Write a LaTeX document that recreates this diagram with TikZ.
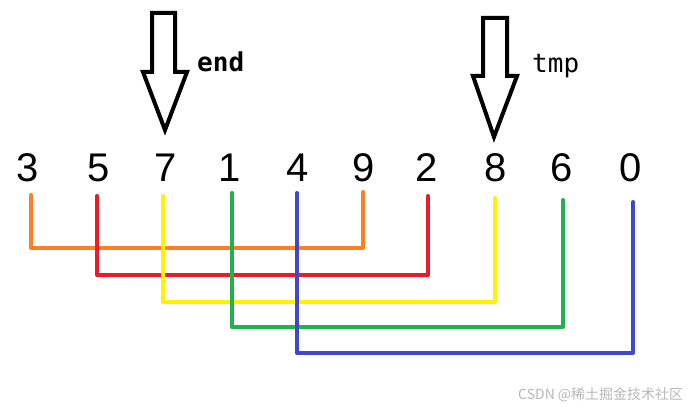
\documentclass[tikz,border=0pt]{standalone}
\usepackage{fontspec}
\setmainfont{Liberation Sans}
\newfontfamily\monofont{DejaVu Sans Mono}
\newfontfamily\cjkfont{Noto Sans CJK SC}
\definecolor{pOrange}{RGB}{255,127,39}
\definecolor{pRed}{RGB}{237,28,36}
\definecolor{pYellow}{RGB}{255,242,0}
\definecolor{pGreen}{RGB}{34,177,76}
\definecolor{pBlue}{RGB}{63,72,204}
\begin{document}
\begin{tikzpicture}[x=1pt,y=-1pt,
  digit/.style={inner sep=0pt,font=\fontsize{40}{40}\selectfont},
  ptr/.style={draw=black,line width=4pt,line join=miter,fill=white},
  lbl/.style={inner sep=0pt,anchor=base west,font=\monofont\fontsize{26}{26}\selectfont},
  link/.style={line width=4pt,line join=round,line cap=round}]
\useasboundingbox[fill=white] (0,0) rectangle (696,414);
% digits
\node[digit] (d3) at (28,167.5) {3};
\node[digit] (d5) at (99,167.5) {5};
\node[digit] (d7) at (166,167.5) {7};
\node[digit] (d1) at (230,167.5) {1};
\node[digit] (d4) at (298,167.5) {4};
\node[digit] (d9) at (364,167.5) {9};
\node[digit] (d2) at (427,167.5) {2};
\node[digit] (d8) at (496,167.5) {8};
\node[digit] (d6) at (562,167.5) {6};
\node[digit] (d0) at (631,167.5) {0};
% pointer arrows
\draw[ptr] (152,13) -- (175,13) -- (175,72) -- (187,72) -- (165,130) -- (143,72) -- (152,72) -- cycle;
\draw[ptr] (483,18) -- (507,18) -- (507,76) -- (517,76) -- (494,137) -- (473,76) -- (483,76) -- cycle;
\node[lbl,font=\monofont\bfseries\fontsize{26}{26}\selectfont] (endlbl) at (197,72) {end};
\node[lbl] (tmplbl) at (532,73) {tmp};
% connector end points
\coordinate (a1) at (31,195);  \coordinate (a2) at (363,192);
\coordinate (b1) at (97,196);  \coordinate (b2) at (428,196);
\coordinate (c1) at (163,196); \coordinate (c2) at (495,198);
\coordinate (g1) at (232,193); \coordinate (g2) at (563,200);
\coordinate (h1) at (297,193); \coordinate (h2) at (633,202);
% links
\draw[link,pOrange] (a1) -- ++(0,53) -| (a2);
\draw[link,pRed] (b1) -- ++(0,79) -| (b2);
\draw[link,pYellow] (c1) -- ++(0,106) -| (c2);
\draw[link,pGreen] (g1) -- ++(0,134) -| (g2);
\draw[link,pBlue] (h1) -- ++(0,160) -| (h2);
% watermark
\node[inner sep=0pt,anchor=west,text=black!28,font=\cjkfont\fontsize{14}{14}\selectfont] (wm) at (518,395) {CSDN @稀土掘金技术社区};
\end{tikzpicture}
\end{document}
